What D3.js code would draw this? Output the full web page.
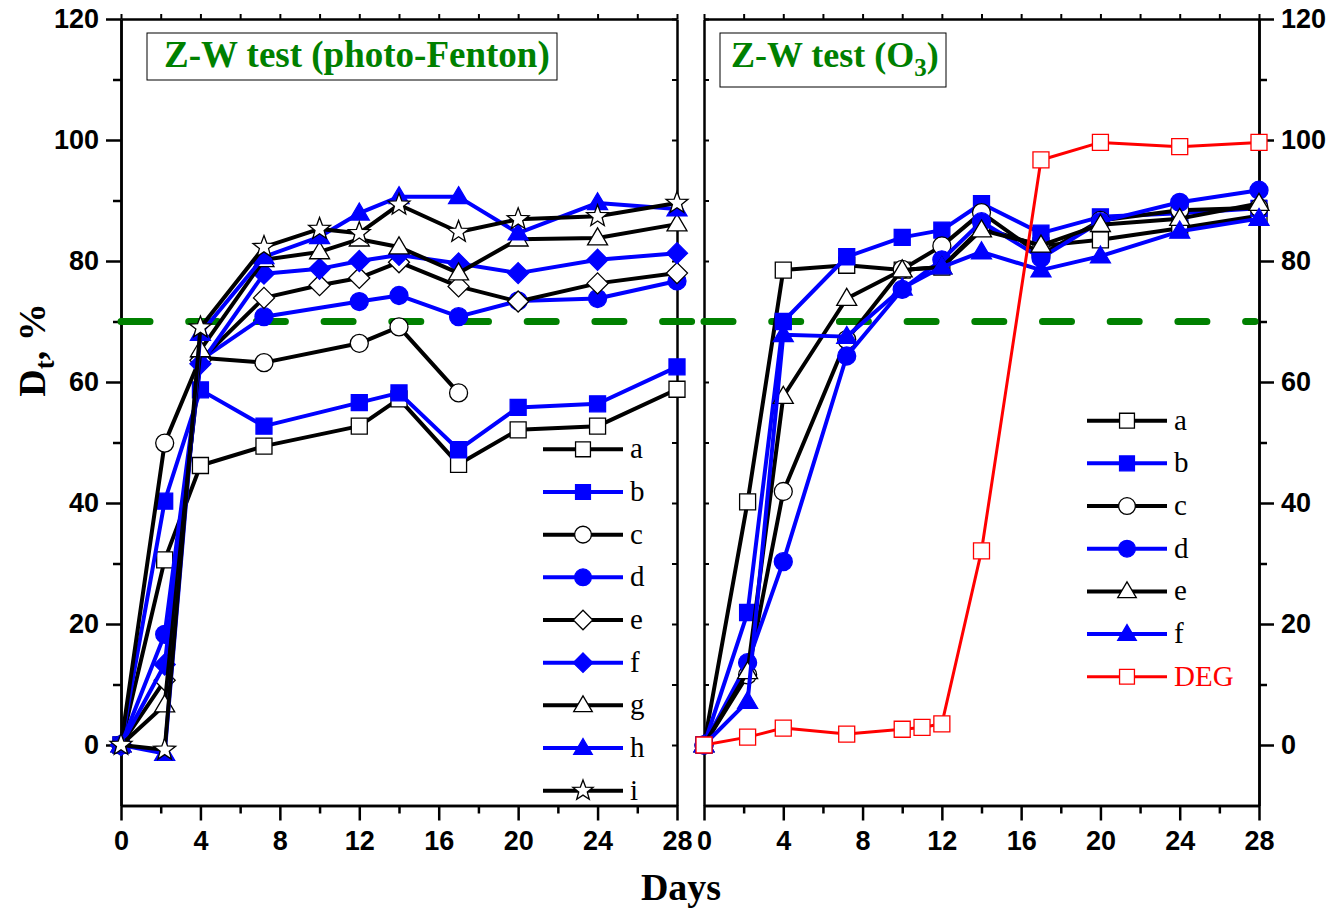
<!DOCTYPE html>
<html>
<head>
<meta charset="utf-8">
<script src="https://cdn.jsdelivr.net/npm/d3@7"></script>
<style>
  body { margin: 0; background: #fff; }
  svg { display: block; }
</style>
</head>
<body>
<svg id="chart" width="1326" height="910"></svg>
<script>
// ---- data ----
const days = [0, 2.2, 4, 7.2, 10, 12, 14, 17, 20, 24, 28];
const xTicks = [0, 4, 8, 12, 16, 20, 24, 28];
const yTicks = [0, 20, 40, 60, 80, 100, 120];
const threshold = 70;

// photo-Fenton runs
const pfA = [0, 30.6, 46.2, 49.4, null, 52.7, 57.2, 46.4, 52.1, 52.7, 58.8];
const pfB = [0, 40.3, 58.7, 52.7, null, 56.6, 58.2, 48.8, 55.8, 56.4, 62.5];
const pfC = [0, 49.9, 64.0, 63.2, null, 66.4, 69.1, 58.2, null, null, null];
const pfD = [0, 18.3, 63.6, 70.8, null, 73.3, 74.3, 70.8, 73.4, 73.8, 76.7];
const pfE = [0, 10.7, 63.6, 73.9, 76.0, 77.2, 79.8, 75.8, 73.3, 76.3, 78.0];
const pfF = [0, 13.3, 63.0, 77.9, 78.7, 80.0, 81.0, 79.6, 78.0, 80.2, 81.3];
const pfG = [0, 6.6, 65.3, 80.2, 81.5, 83.6, 82.3, 78.0, 83.6, 83.8, 86.1];
const pfH = [0, -1.4, 68.0, 80.7, 84.0, 87.9, 90.6, 90.6, 84.6, 89.6, 88.6];
const pfI = [0, -0.8, 69.0, 82.3, 85.3, 84.6, 89.3, 84.8, 86.9, 87.4, 89.6];

// ozonation runs
const ozA = [0, 40.2, 78.5, 79.3, 78.5, 79.0, 85.5, 82.5, 83.5, 85.4, 87.5];
const ozB = [0, 21.9, 70.0, 80.7, 83.9, 85.1, 89.5, 84.6, 87.3, 87.9, 88.7];
const ozC = [0, 11.6, 41.9, 67.0, 78.6, 82.5, 88.0, 81.0, 86.7, 88.4, 88.8];
const ozD = [0, 13.6, 30.3, 64.3, 75.3, 80.2, 86.5, 80.5, 86.5, 89.7, 91.7];
const ozE = [0, 12.1, 57.6, 73.8, 78.5, 79.0, 85.1, 82.6, 86.0, 87.0, 89.5];
const ozF = [0, 7.2, 67.8, 67.5, 75.5, 79.0, 81.5, 78.5, 80.8, 84.9, 87.0];

// diethylene glycol reference
const degDays = [0, 2.2, 4, 7.2, 10, 11, 12, 14, 17, 20, 24, 28];
const degValues = [0, 1.3, 2.8, 1.8, 2.6, 2.9, 3.5, 32.1, 96.7, 99.6, 98.9, 99.6];

// ---- styles ----
const BLACK = "#000000", BLUE = "#0000ff", RED = "#ff0000", GREEN = "#008000";
const pfSeries = [
  { name: "a", values: pfA, color: BLACK, shape: "square",   filled: false },
  { name: "b", values: pfB, color: BLUE,  shape: "square",   filled: true  },
  { name: "c", values: pfC, color: BLACK, shape: "circle",   filled: false },
  { name: "d", values: pfD, color: BLUE,  shape: "circle",   filled: true  },
  { name: "e", values: pfE, color: BLACK, shape: "diamond",  filled: false },
  { name: "f", values: pfF, color: BLUE,  shape: "diamond",  filled: true  },
  { name: "g", values: pfG, color: BLACK, shape: "triangle", filled: false },
  { name: "h", values: pfH, color: BLUE,  shape: "triangle", filled: true  },
  { name: "i", values: pfI, color: BLACK, shape: "star",     filled: false }
];
const ozSeries = [
  { name: "a", values: ozA, color: BLACK, shape: "square",   filled: false },
  { name: "b", values: ozB, color: BLUE,  shape: "square",   filled: true  },
  { name: "c", values: ozC, color: BLACK, shape: "circle",   filled: false },
  { name: "d", values: ozD, color: BLUE,  shape: "circle",   filled: true  },
  { name: "e", values: ozE, color: BLACK, shape: "triangle", filled: false },
  { name: "f", values: ozF, color: BLUE,  shape: "triangle", filled: true  }
];
const degSeries = { name: "DEG", values: degValues, color: RED, shape: "square", filled: false, x: degDays, width: 3, stroke: RED };

const svg = d3.select("#chart");
const y = d3.scaleLinear().domain([-10, 120]).range([805.5, 19]);
const xL = d3.scaleLinear().domain([0, 28]).range([121, 677]);
const xR = d3.scaleLinear().domain([0, 28]).range([704, 1259]);

function markerPath(shape, k = 1) {
  if (shape === "square") { const s = 16 * k; return `M${-s/2},${-s/2}h${s}v${s}h${-s}Z`; }
  if (shape === "circle") { const r = 9 * k; return d3.symbol(d3.symbolCircle, Math.PI * r * r)(); }
  if (shape === "diamond") { const h = 10.5 * k; return `M0,${-h}L${h},0L0,${h}L${-h},0Z`; }
  if (shape === "triangle") {
    const w = 20 * k, H = 17 * k;
    return `M0,${-H * 0.6}L${w/2},${H * 0.4}L${-w/2},${H * 0.4}Z`;
  }
  if (shape === "star") {
    const R = 11.5 * k, r = 4.8 * k, pts = [];
    for (let i = 0; i < 10; i++) {
      const a = -Math.PI / 2 + i * Math.PI / 5, rad = i % 2 ? r : R;
      pts.push([rad * Math.cos(a), rad * Math.sin(a)]);
    }
    return "M" + pts.map(p => p[0].toFixed(2) + "," + p[1].toFixed(2)).join("L") + "Z";
  }
}

function styleMarker(sel, s) {
  sel.attr("fill", s.filled ? s.color : "#fff")
     .attr("stroke", s.filled ? s.color : (s.stroke || BLACK))
     .attr("stroke-width", 1.3);
}

function styleAxis(g, width) {
  g.select(".domain").attr("stroke", BLACK).attr("stroke-width", 2.5);
  g.selectAll(".tick line").attr("stroke", BLACK).attr("stroke-width", width || 2.5);
  g.selectAll(".tick text")
    .attr("font-family", "'Liberation Sans', Arial, sans-serif")
    .attr("font-weight", "bold").attr("font-size", 27).attr("fill", BLACK);
}

const everyTwo = d3.range(0, 29, 2);
const minorX = everyTwo.filter(d => d % 4 !== 0);
const minorY = d3.range(10, 120, 20);
const everyTen = d3.range(-10, 121, 10);

function drawFrame(x, side) {
  const bottom = svg.append("g").attr("transform", `translate(0,${y(-10)})`);
  bottom.call(d3.axisBottom(x).tickValues(xTicks).tickSize(15).tickSizeOuter(0).tickPadding(10).tickFormat(d3.format("d")));
  styleAxis(bottom);
  const bMinor = svg.append("g").attr("transform", `translate(0,${y(-10)})`);
  bMinor.call(d3.axisBottom(x).tickValues(minorX).tickSize(8).tickSizeOuter(0).tickFormat(""));
  styleAxis(bMinor);

  const top = svg.append("g").attr("transform", `translate(0,${y(120)})`);
  top.call(d3.axisTop(x).tickValues(everyTwo).tickSize(5).tickSizeOuter(0).tickFormat(""));
  styleAxis(top, 2);

  const x0 = x.range()[0], x1 = x.range()[1];
  if (side === "left") {
    const l = svg.append("g").attr("transform", `translate(${x0},0)`);
    l.call(d3.axisLeft(y).tickValues(yTicks).tickSize(15).tickSizeOuter(0).tickPadding(7).tickFormat(d3.format("d")));
    styleAxis(l);
    const lm = svg.append("g").attr("transform", `translate(${x0},0)`);
    lm.call(d3.axisLeft(y).tickValues(minorY).tickSize(8).tickSizeOuter(0).tickFormat(""));
    styleAxis(lm);
    const r = svg.append("g").attr("transform", `translate(${x1},0)`);
    r.call(d3.axisLeft(y).tickValues(everyTen).tickSize(5).tickSizeOuter(0).tickFormat(""));
    styleAxis(r, 2);
  } else {
    const l = svg.append("g").attr("transform", `translate(${x0},0)`);
    l.call(d3.axisRight(y).tickValues(everyTen).tickSize(5).tickSizeOuter(0).tickFormat(""));
    styleAxis(l, 2);
    const r = svg.append("g").attr("transform", `translate(${x1},0)`);
    r.call(d3.axisRight(y).tickValues(yTicks).tickSize(15).tickSizeOuter(0).tickPadding(7).tickFormat(d3.format("d")));
    styleAxis(r);
    const rm = svg.append("g").attr("transform", `translate(${x1},0)`);
    rm.call(d3.axisRight(y).tickValues(minorY).tickSize(8).tickSizeOuter(0).tickFormat(""));
    styleAxis(rm);
  }
}

function drawThreshold(x, dayEnd) {
  svg.append("line")
    .attr("x1", x(0)).attr("x2", x(dayEnd))
    .attr("y1", y(threshold)).attr("y2", y(threshold))
    .attr("stroke", GREEN).attr("stroke-width", 7)
    .attr("stroke-linecap", "round").attr("stroke-dasharray", "29,38.7");
}

function drawSeries(x, s) {
  const xs = s.x || days;
  const pts = xs.map((d, i) => [d, s.values[i]]).filter(p => p[1] !== null);
  const line = d3.line().x(p => x(p[0])).y(p => y(p[1]));
  const g = svg.append("g");
  g.append("path").attr("d", line(pts)).attr("fill", "none")
    .attr("stroke", s.color).attr("stroke-width", s.width || 4).attr("stroke-linejoin", "round");
  g.selectAll("path.m").data(pts).join("path").attr("class", "m")
    .attr("transform", p => `translate(${x(p[0])},${y(p[1])})`)
    .attr("d", markerPath(s.shape))
    .call(styleMarker, s);
}

function drawLegend(list, lx, ly0) {
  const step = 42.67;
  list.forEach((s, i) => {
    const cy = ly0 + i * step;
    const g = svg.append("g");
    g.append("line").attr("x1", lx).attr("x2", lx + 80).attr("y1", cy).attr("y2", cy)
      .attr("stroke", s.color).attr("stroke-width", s.width || 4);
    g.append("path").attr("transform", `translate(${lx + 40},${cy})`)
      .attr("d", markerPath(s.shape, 0.93)).call(styleMarker, s);
    g.append("text").attr("x", lx + 87).attr("y", cy + 9)
      .attr("font-family", "'Liberation Serif', 'Times New Roman', serif")
      .attr("font-size", 29).attr("fill", s.color === RED ? RED : BLACK)
      .text(s.name);
  });
}

function drawTitle(x0, y0, w, h, pad, size, parts) {
  svg.append("rect").attr("x", x0).attr("y", y0).attr("width", w).attr("height", h)
    .attr("fill", "#fff").attr("stroke", BLACK).attr("stroke-width", 1);
  const t = svg.append("text").attr("x", x0 + pad).attr("y", y0 + 34)
    .attr("font-family", "'Liberation Serif', 'Times New Roman', serif")
    .attr("font-weight", "bold").attr("font-size", size).attr("fill", GREEN);
  parts.forEach(p => {
    const ts = t.append("tspan").text(p.text);
    if (p.sub) ts.attr("font-size", 25).attr("dy", 9);
    if (p.after) ts.attr("dy", -9);
  });
}

// ---- left panel: photo-Fenton ----
drawFrame(xL, "left");
drawThreshold(xL, 29);
pfSeries.forEach(s => drawSeries(xL, s));
drawLegend(pfSeries, 543, 449.3);
drawTitle(147, 33, 410, 47, 17, 37, [{ text: "Z-W test (photo-Fenton)" }]);

// ---- right panel: ozonation ----
drawFrame(xR, "right");
drawThreshold(xR, 27.8);
ozSeries.forEach(s => drawSeries(xR, s));
drawSeries(xR, degSeries);
drawLegend(ozSeries.concat([degSeries]), 1087, 420.7);
drawTitle(720, 33, 226, 54, 11, 36, [{ text: "Z-W test (O" }, { text: "3", sub: true }, { text: ")", after: true }]);

// ---- axis titles ----
const yTitle = svg.append("text")
  .attr("transform", `translate(45,350) rotate(-90)`)
  .attr("text-anchor", "middle")
  .attr("font-family", "'Liberation Serif', 'Times New Roman', serif")
  .attr("font-weight", "bold").attr("font-size", 38).attr("fill", BLACK);
yTitle.append("tspan").text("D");
yTitle.append("tspan").attr("font-size", 27).attr("dy", 9).text("t");
yTitle.append("tspan").attr("dy", -9).text(", %");

svg.append("text").attr("x", 681).attr("y", 900).attr("text-anchor", "middle")
  .attr("font-family", "'Liberation Serif', 'Times New Roman', serif")
  .attr("font-weight", "bold").attr("font-size", 38).attr("fill", BLACK)
  .text("Days");
</script>
</body>
</html>
